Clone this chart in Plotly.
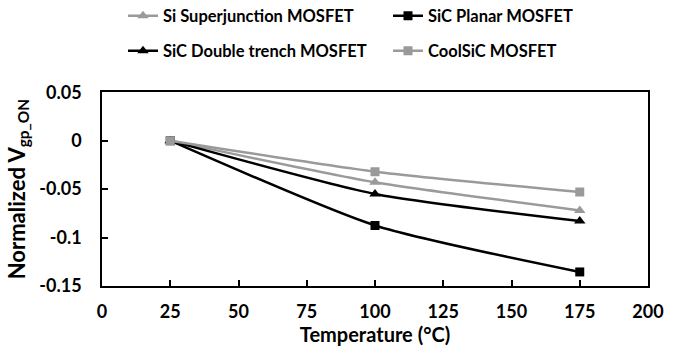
import plotly.graph_objects as go

temps = [25, 100, 175]
si_sj = [0.0, -0.043, -0.072]
sic_planar = [0.0, -0.0875, -0.1355]
sic_dt = [0.0, -0.055, -0.083]
coolsic = [0.0, -0.032, -0.053]

names = ["Si Superjunction MOSFET", "SiC Planar MOSFET", "SiC Double trench MOSFET", "CoolSiC MOSFET"]
series = [si_sj, sic_planar, sic_dt, coolsic]
colors = ["#9a9a9a", "#000000", "#000000", "#9a9a9a"]
symbols = ["triangle-up", "square", "triangle-up", "square"]
sizes = [10, 9, 10, 9]
legend_ids = ["legend", "legend", "legend2", "legend2"]

x_ticks = [0, 25, 50, 75, 100, 125, 150, 175, 200]
y_ticks = [-0.15, -0.1, -0.05, 0, 0.05]
y_tick_labels = ["-0.15", "-0.1", "-0.05", "0", "0.05"]

fig = go.Figure()
for n, s, c, sym, sz, lg in zip(names, series, colors, symbols, sizes, legend_ids):
    fig.add_trace(go.Scatter(
        x=temps, y=s, name=n, mode="lines+markers", legend=lg,
        line=dict(color=c, width=2.5, shape="spline", smoothing=0.6),
        marker=dict(symbol=sym, size=sz, color=c),
    ))

font = "Lato, 'Open Sans', sans-serif"
leg_common = dict(
    orientation="h", xref="container", yref="container",
    xanchor="left", yanchor="middle",
    entrywidth=220, entrywidthmode="pixels",
    font=dict(size=16.5, family=font, weight="bold", color="black"),
    traceorder="normal", itemwidth=30, bgcolor="rgba(0,0,0,0)",
)
fig.update_layout(
    width=676, height=355,
    margin=dict(l=102, r=20, t=80, b=67),
    plot_bgcolor="white", paper_bgcolor="white",
    font=dict(family=font, size=18, color="black"),
    showlegend=True,
    legend=dict(x=123 / 676, y=1 - 16 / 355, **leg_common),
    legend2=dict(x=123 / 676, y=1 - 51 / 355, **leg_common),
    xaxis=dict(
        range=[0, 200], tickvals=x_ticks, ticktext=[f"<b>{v}</b>" for v in x_ticks],
        showline=True, linecolor="black", linewidth=1.5, mirror=True,
        ticks="inside", ticklen=6, tickcolor="black", tickwidth=1.5,
        showgrid=False, zeroline=False, ticklabelstandoff=9,
        tickfont=dict(size=18, family=font),
        title=dict(text="<b>Temperature (°C)</b>", font=dict(size=20, family=font), standoff=7),
    ),
    yaxis=dict(
        range=[-0.15, 0.05], tickvals=y_ticks, ticktext=[f"<b>{t}</b>" for t in y_tick_labels],
        showline=True, linecolor="black", linewidth=1.5, mirror=True,
        ticks="inside", ticklen=6, tickcolor="black", tickwidth=1.5,
        showgrid=False, zeroline=False, ticklabelstandoff=15,
        tickfont=dict(size=18, family=font),
        title=dict(text="<b>Normalized V<sub>gp_ON</sub></b>", font=dict(size=22, family=font), standoff=8),
    ),
)
fig.write_html("out.html")
